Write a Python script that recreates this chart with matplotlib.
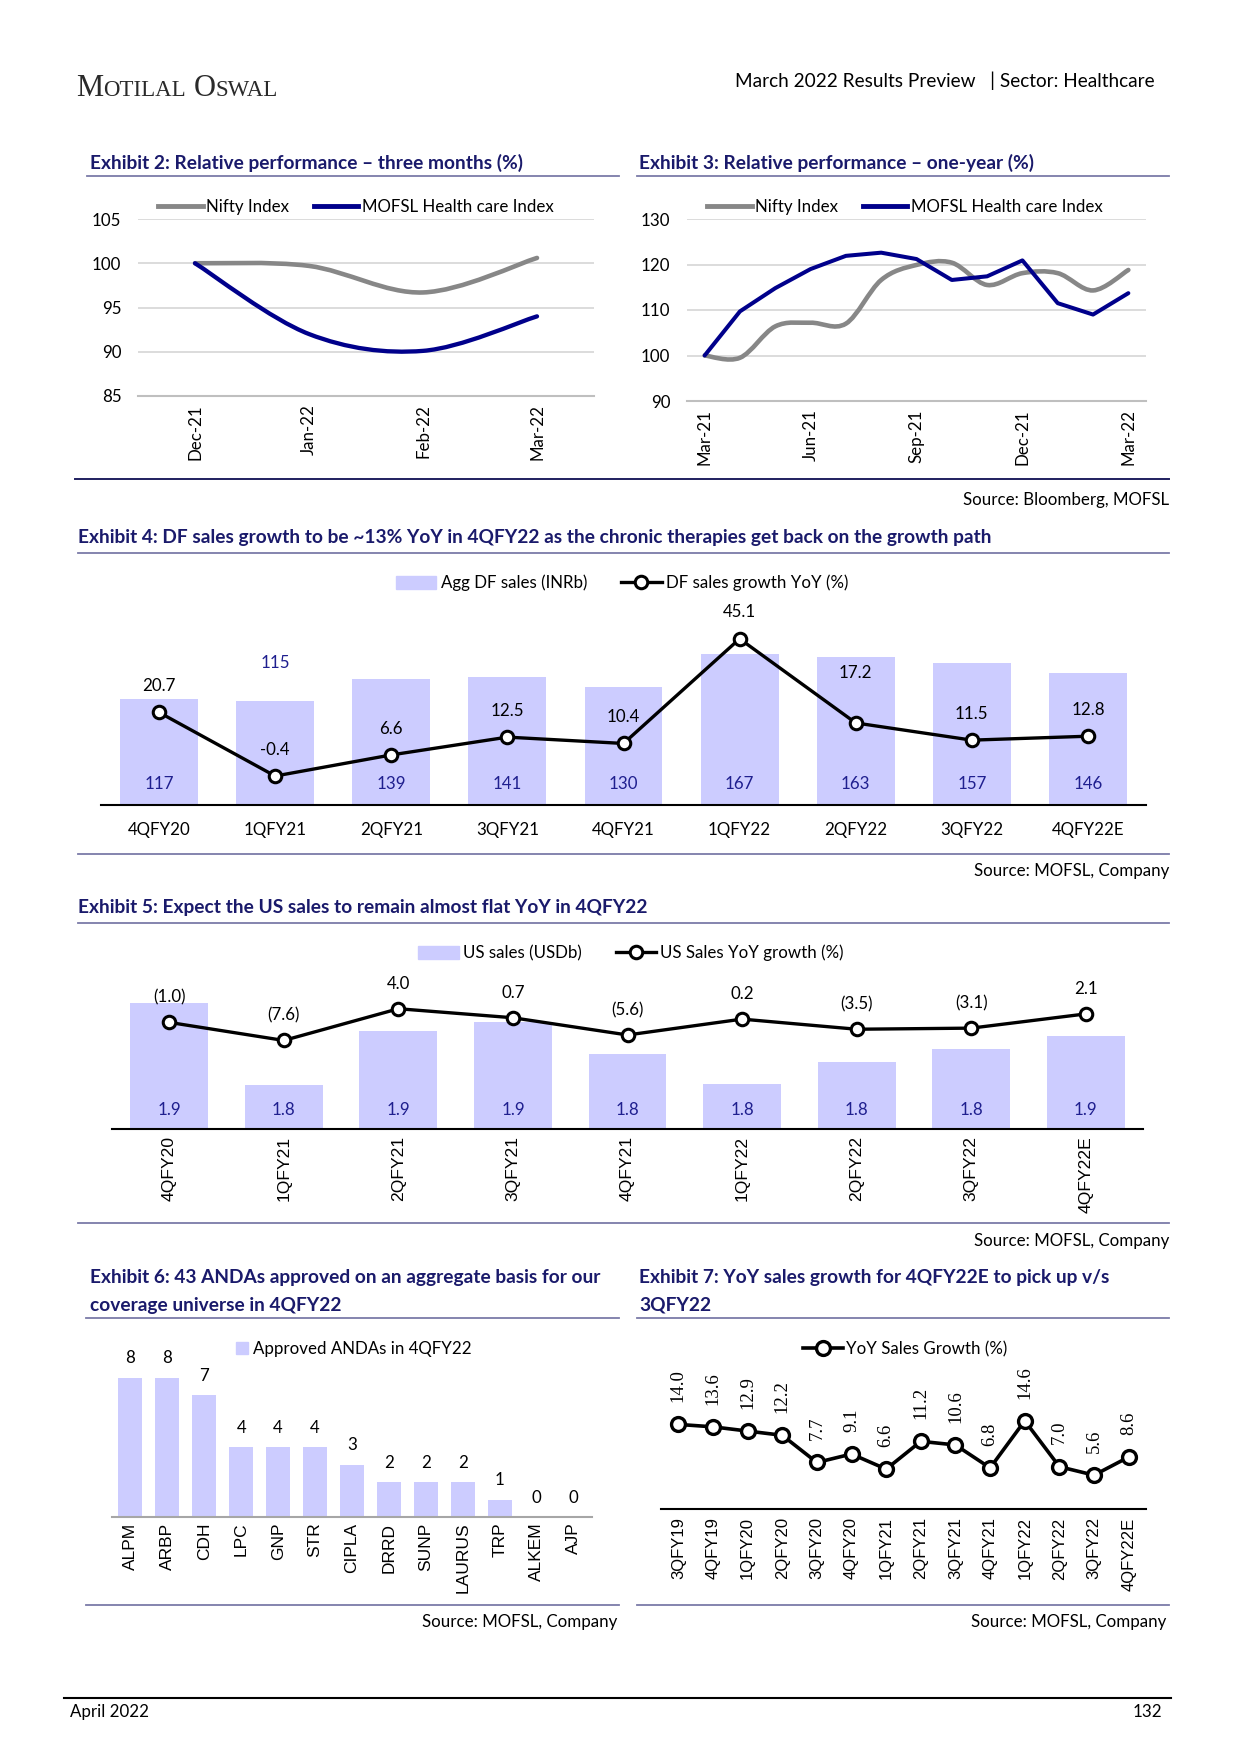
import matplotlib
matplotlib.use('Agg')
import matplotlib.pyplot as plt
from matplotlib.path import Path
from matplotlib.patches import PathPatch, Patch
from matplotlib.lines import Line2D
import numpy as np

plt.rcParams['font.family'] = ['Lato', 'DejaVu Sans']

# ---- data ----
months_3m = ['Dec-21', 'Jan-22', 'Feb-22', 'Mar-22']
nifty_3m = [100.0, 99.7, 96.7, 100.6]
mofsl_3m = [100.0, 92.0, 90.1, 94.0]

months_1y = ['Mar-21', 'Apr-21', 'May-21', 'Jun-21', 'Jul-21', 'Aug-21', 'Sep-21',
             'Oct-21', 'Nov-21', 'Dec-21', 'Jan-22', 'Feb-22', 'Mar-22']
nifty_1y = [100.0, 99.5, 106.4, 107.2, 107.0, 116.6, 119.9, 120.4, 115.5, 118.1, 118.1, 114.3, 118.8]
mofsl_1y = [100.0, 109.7, 114.8, 119.0, 121.9, 122.6, 121.2, 116.6, 117.4, 120.9, 111.5, 109.0, 113.7]

quarters9 = ['4QFY20', '1QFY21', '2QFY21', '3QFY21', '4QFY21', '1QFY22', '2QFY22', '3QFY22', '4QFY22E']
df_sales = [117, 115, 139, 141, 130, 167, 163, 157, 146]
df_growth = [20.7, -0.4, 6.6, 12.5, 10.4, 45.1, 17.2, 11.5, 12.8]

us_sales = [1.93, 1.78, 1.879, 1.895, 1.837, 1.782, 1.823, 1.846, 1.870]
us_growth = [-1.0, -7.6, 4.0, 0.7, -5.6, 0.2, -3.5, -3.1, 2.1]

companies = ['ALPM', 'ARBP', 'CDH', 'LPC', 'GNP', 'STR', 'CIPLA', 'DRRD', 'SUNP', 'LAURUS', 'TRP', 'ALKEM', 'AJP']
andas = [8, 8, 7, 4, 4, 4, 3, 2, 2, 2, 1, 0, 0]

quarters14 = ['3QFY19', '4QFY19', '1QFY20', '2QFY20', '3QFY20', '4QFY20', '1QFY21', '2QFY21',
              '3QFY21', '4QFY21', '1QFY22', '2QFY22', '3QFY22', '4QFY22E']
yoy_growth = [14.0, 13.6, 12.9, 12.2, 7.7, 9.1, 6.6, 11.2, 10.6, 6.8, 14.6, 7.0, 5.6, 8.6]

# ---- styles ----
W, H = 1241, 1755
NAVY = '#1a1a6b'
LBL = '#1f1f8f'
LAV = '#ccccff'
GRAY = '#878787'
BLUE = '#00008b'
RULE = '#7b7ba8'
FS = 12.2
TFS = 13.8

fig = plt.figure(figsize=(W / 100, H / 100), dpi=100)
fig.patch.set_facecolor('white')


def add_ax(l, t, r, b):
    return fig.add_axes([l / W, 1 - b / H, (r - l) / W, (b - t) / H])


def hline(x0, x1, y, color=RULE, lw=1.3):
    fig.add_artist(Line2D([x0 / W, x1 / W], [1 - y / H, 1 - y / H], color=color, lw=lw,
                          transform=fig.transFigure))


def ftext(x, y, s, **kw):
    kw.setdefault('va', 'center')
    return fig.text(x / W, 1 - y / H, s, **kw)


def title(x, y, s):
    return ftext(x, y, s, fontsize=TFS, fontweight='bold', color=NAVY)


def clean(ax, keep_bottom=False, bottom_color='black', bottom_lw=1.5):
    for name, sp in ax.spines.items():
        sp.set_visible(keep_bottom and name == 'bottom')
    ax.spines['bottom'].set_color(bottom_color)
    ax.spines['bottom'].set_linewidth(bottom_lw)
    ax.tick_params(length=0)


def smooth_line(ax, xs, ys, **kw):
    # smoothed curve through the points (Catmull-Rom drawn as Bezier)
    pts = np.column_stack([np.asarray(xs, float), np.asarray(ys, float)])
    n = len(pts)
    verts = [pts[0]]
    codes = [Path.MOVETO]
    for i in range(n - 1):
        p0 = pts[max(i - 1, 0)]
        p1 = pts[i]
        p2 = pts[i + 1]
        p3 = pts[min(i + 2, n - 1)]
        verts += [p1 + (p2 - p0) / 6, p2 - (p3 - p1) / 6, p2]
        codes += [Path.CURVE4] * 3
    ax.add_patch(PathPatch(Path(verts, codes), fill=False, **kw))


def paren(v):
    return f'({abs(v):.1f})' if v < 0 else f'{v:.1f}'


# ---- header ----
r = fig.canvas.get_renderer()
cx = 76
for s, fs in [('M', 22), ('OTILAL', 16.5), ('O', 22), ('SWAL', 16.5)]:
    t = ftext(cx, 96, s, fontsize=fs, family='Liberation Serif', color='#2a2a2a', va='baseline')
    cx += t.get_window_extent(renderer=r).width + (8 if s == 'OTILAL' else 0)
ftext(1155, 81, 'March 2022 Results Preview   | Sector: Healthcare', fontsize=13.7, ha='right', color='black')

# ---- Exhibit 2 ----
title(90, 163, 'Exhibit 2: Relative performance – three months (%)')
hline(87, 619, 176)
ax2 = add_ax(138, 219, 594, 396)
x = np.arange(len(months_3m))
smooth_line(ax2, x, nifty_3m, color=GRAY, lw=3.3, capstyle='round', zorder=3)
smooth_line(ax2, x, mofsl_3m, color=BLUE, lw=3.1, capstyle='round', zorder=4)
ax2.set_xlim(-0.5, 3.5)
ax2.set_ylim(85, 105)
ax2.set_yticks(range(85, 106, 5))
ax2.grid(axis='y', color='#d9d9d9', lw=1.3)
ax2.set_axisbelow(True)
clean(ax2, keep_bottom=True, bottom_color='#bfbfbf', bottom_lw=1.5)
ax2.set_xticks(x, months_3m, rotation=90, fontsize=FS)
ax2.tick_params(axis='y', labelsize=FS, pad=12)
ax2.tick_params(axis='x', pad=6)
h2 = [Line2D([], [], color=GRAY, lw=3.5), Line2D([], [], color=BLUE, lw=3.5)]
fig.legend(h2, ['Nifty Index', 'MOFSL Health care Index'], loc='center', ncol=2,
           bbox_to_anchor=(356 / W, 1 - 207 / H), frameon=False, fontsize=FS,
           handlelength=2.6, handletextpad=0.2, columnspacing=1.5)

# ---- Exhibit 3 ----
title(639, 163, 'Exhibit 3: Relative performance – one-year (%)')
hline(637, 1169, 176)
ax3 = add_ax(687, 219, 1146, 401)
x = np.arange(len(months_1y))
smooth_line(ax3, x, nifty_1y, color=GRAY, lw=3.3, capstyle='round', zorder=3)
ax3.plot(x, mofsl_1y, color=BLUE, lw=2.9, zorder=4, solid_capstyle='round')
ax3.set_xlim(-0.5, 12.5)
ax3.set_ylim(90, 130)
ax3.set_yticks(range(90, 131, 10))
ax3.grid(axis='y', color='#d9d9d9', lw=1.3)
ax3.set_axisbelow(True)
clean(ax3, keep_bottom=True, bottom_color='#bfbfbf', bottom_lw=1.5)
ax3.set_xticks(x[::3], months_1y[::3], rotation=90, fontsize=FS)
ax3.tick_params(axis='y', labelsize=FS, pad=12)
ax3.tick_params(axis='x', pad=6)
fig.legend(h2, ['Nifty Index', 'MOFSL Health care Index'], loc='center', ncol=2,
           bbox_to_anchor=(905 / W, 1 - 207 / H), frameon=False, fontsize=FS,
           handlelength=2.6, handletextpad=0.2, columnspacing=1.5)

hline(75, 1169, 479, color='#1f1f5f', lw=1.4)
ftext(1169, 500, 'Source: Bloomberg, MOFSL', fontsize=FS, ha='right')

# ---- Exhibit 4 ----
title(78, 538, 'Exhibit 4: DF sales growth to be ~13% YoY in 4QFY22 as the chronic therapies get back on the growth path')
hline(78, 1169, 553)
ax4 = add_ax(101, 624, 1146, 805)
x = np.arange(len(quarters9))
ax4.bar(x, df_sales, width=0.67, color=LAV, zorder=1)
ax4.set_ylim(0, 200)
ax4.set_xlim(-0.5, 8.5)
ax4.set_yticks([])
clean(ax4, keep_bottom=True)
ax4.set_xticks(x, quarters9, fontsize=FS)
ax4.tick_params(axis='x', pad=12)
for i, v in enumerate(df_sales):
    if quarters9[i] == '1QFY21':
        ax4.annotate(str(v), (i, v), xytext=(0, 27), textcoords='offset points',
                     ha='center', va='center', color=LBL, fontsize=FS)
    else:
        ax4.annotate(str(v), (i, 0), xytext=(0, 15), textcoords='offset points',
                     ha='center', va='center', color=LBL, fontsize=FS)
ax4b = ax4.twinx()
ax4b.plot(x, df_growth, color='black', lw=2.4, marker='o', ms=9, mfc='white', mec='black', mew=2.2)
ax4b.set_ylim(-10, 50)
ax4b.set_yticks([])
clean(ax4b)
for i, v in enumerate(df_growth):
    dy = 36 if quarters9[i] == '2QFY22' else 19
    ax4b.annotate(f'{v:.1f}', (i, v), xytext=(0, dy), textcoords='offset points',
                  ha='center', va='center', color='black', fontsize=FS)
h4 = [Patch(color=LAV), Line2D([], [], color='black', lw=2.4, marker='o', ms=9, mfc='white', mew=2.2)]
fig.legend(h4, ['Agg DF sales (INRb)', 'DF sales growth YoY (%)'], loc='center', ncol=2,
           bbox_to_anchor=(622 / W, 1 - 583 / H), frameon=False, fontsize=FS,
           handlelength=2.4, handleheight=0.8, handletextpad=0.25, columnspacing=2.0)
hline(78, 1169, 854)
ftext(1169, 871, 'Source: MOFSL, Company', fontsize=FS, ha='right')

# ---- Exhibit 5 ----
title(78, 908, 'Exhibit 5: Expect the US sales to remain almost flat YoY in 4QFY22')
hline(78, 1169, 923)
ax5 = add_ax(112, 965, 1143, 1129)
x = np.arange(len(quarters9))
ax5.bar(x, us_sales, width=0.68, color=LAV, zorder=1)
ax5.set_ylim(1.7, 2.0)
ax5.set_xlim(-0.5, 8.5)
ax5.set_yticks([])
clean(ax5, keep_bottom=True)
ax5.set_xticks(x, quarters9, rotation=90, fontsize=12.6, family='Liberation Sans')
ax5.tick_params(axis='x', pad=5)
for i, v in enumerate(us_sales):
    ax5.annotate(f'{v:.1f}', (i, 1.7), xytext=(0, 14), textcoords='offset points',
                 ha='center', va='center', color=LBL, fontsize=FS)
ax5b = ax5.twinx()
ax5b.plot(x, us_growth, color='black', lw=2.4, marker='o', ms=9, mfc='white', mec='black', mew=2.2)
ax5b.set_ylim(-40, 20)
ax5b.set_yticks([])
clean(ax5b)
for i, v in enumerate(us_growth):
    ax5b.annotate(paren(v), (i, v), xytext=(0, 18), textcoords='offset points',
                  ha='center', va='center', color='black', fontsize=FS)
fig.legend(h4, ['US sales (USDb)', 'US Sales YoY growth (%)'], loc='center', ncol=2,
           bbox_to_anchor=(631 / W, 1 - 953 / H), frameon=False, fontsize=FS,
           handlelength=2.4, handleheight=0.8, handletextpad=0.25, columnspacing=2.0)
hline(78, 1169, 1223)
ftext(1169, 1241, 'Source: MOFSL, Company', fontsize=FS, ha='right')

# ---- Exhibit 6 ----
title(90, 1278, 'Exhibit 6: 43 ANDAs approved on an aggregate basis for our')
title(90, 1305, 'coverage universe in 4QFY22')
hline(86, 619, 1318)
ax6 = add_ax(112, 1343, 592, 1517)
x = np.arange(len(companies))
ax6.bar(x, andas, width=0.65, color=LAV)
ax6.set_ylim(0, 10)
ax6.set_xlim(-0.5, 12.5)
ax6.set_yticks([])
clean(ax6, keep_bottom=True, bottom_color='#a6a6a6', bottom_lw=1.5)
ax6.set_xticks(x, companies, rotation=90, fontsize=12.5, family='Liberation Sans')
ax6.tick_params(axis='x', pad=4)
for i, v in enumerate(andas):
    ax6.annotate(str(v), (i, v), xytext=(0, 14), textcoords='offset points',
                 ha='center', va='center', color='black', fontsize=FS)
fig.legend([Patch(color=LAV)], ['Approved ANDAs in 4QFY22'], loc='center',
           bbox_to_anchor=(354 / W, 1 - 1349 / H), frameon=False, fontsize=FS,
           handlelength=0.7, handleheight=0.7, handletextpad=0.3)
hline(86, 619, 1605)
ftext(617, 1622, 'Source: MOFSL, Company', fontsize=FS, ha='right')

# ---- Exhibit 7 ----
title(639, 1278, 'Exhibit 7: YoY sales growth for 4QFY22E to pick up v/s')
title(639, 1305, '3QFY22')
hline(637, 1169, 1318)
ax7 = add_ax(661, 1364, 1146, 1509)
x = np.arange(len(quarters14))
ax7.plot(x, yoy_growth, color='black', lw=2.6, marker='o', ms=10, mfc='white', mec='black', mew=2.4)
ax7.set_ylim(0, 24)
ax7.set_xlim(-0.5, 13.5)
ax7.set_yticks([])
clean(ax7, keep_bottom=True)
ax7.set_xticks(x, quarters14, rotation=90, fontsize=12, family='Liberation Sans')
ax7.tick_params(axis='x', pad=6)
for i, v in enumerate(yoy_growth):
    ax7.annotate(f'{v:.1f}', (i, v), xytext=(0, 16), textcoords='offset points', rotation=90,
                 ha='center', va='bottom', color='black', fontsize=13.5, family='Liberation Serif')
fig.legend([Line2D([], [], color='black', lw=2.6, marker='o', ms=10, mfc='white', mew=2.4)],
           ['YoY Sales Growth (%)'], loc='center',
           bbox_to_anchor=(905 / W, 1 - 1349 / H), frameon=False, fontsize=FS,
           handlelength=2.4, handletextpad=0.15)
hline(637, 1169, 1605)
ftext(1166, 1622, 'Source: MOFSL, Company', fontsize=FS, ha='right')

# ---- footer ----
hline(64, 1171, 1698, color='black', lw=1.5)
ftext(70, 1712, 'April 2022', fontsize=FS)
ftext(1162, 1712, '132', fontsize=FS, ha='right')

fig.savefig('out.png', dpi=100, facecolor='white')
